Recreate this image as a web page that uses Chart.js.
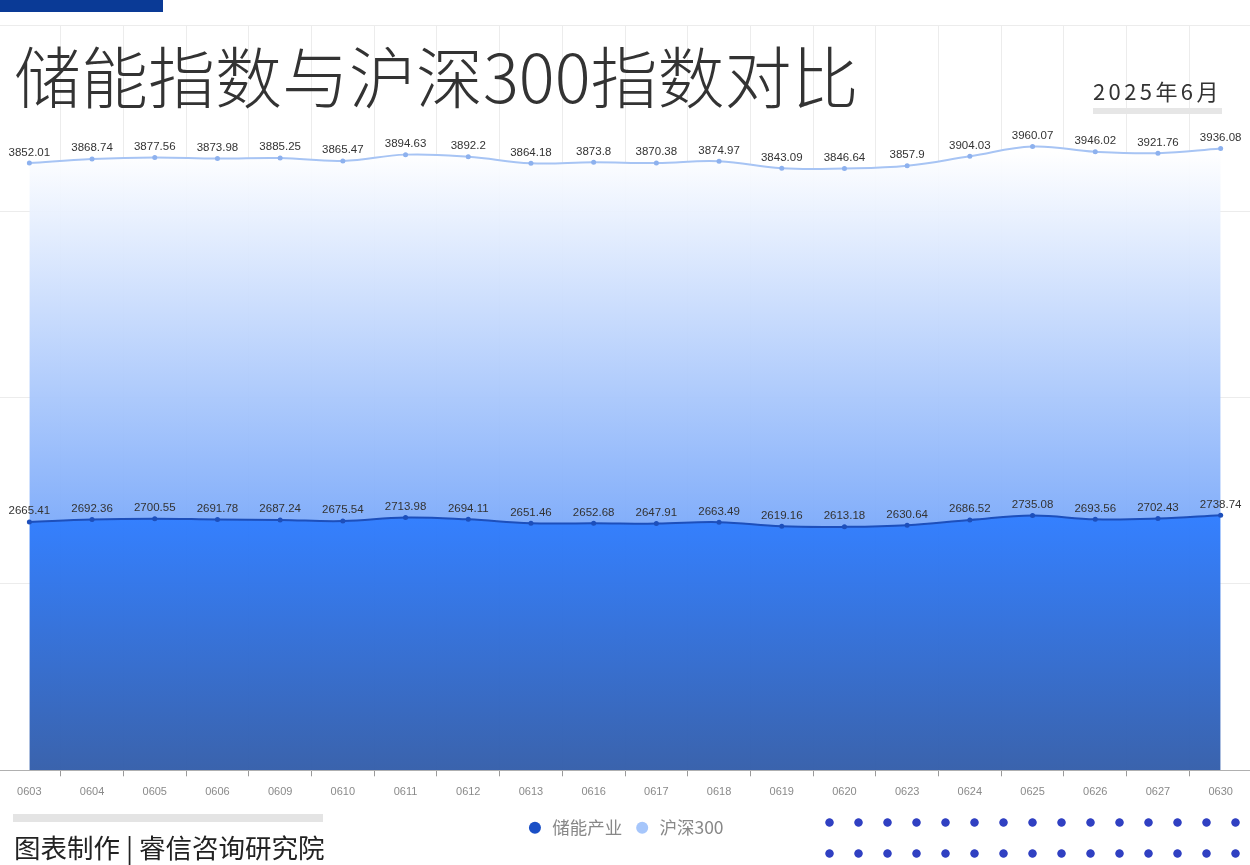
<!DOCTYPE html>
<html>
<head>
<meta charset="utf-8">
<script src="https://cdn.jsdelivr.net/npm/chart.js@4.4.1/dist/chart.umd.min.js"></script>
<style>
  html,body{margin:0;padding:0;background:#fff;}
  body{width:1250px;height:865px;position:relative;overflow:hidden;font-family:"Noto Sans CJK SC","Noto Sans",sans-serif;}
  #wrap{position:absolute;left:-6px;top:0;width:1262px;height:865px;}
  #topbar{position:absolute;left:0;top:0;width:163px;height:12px;background:#0a3a96;}
  #title{position:absolute;left:14px;top:32px;font-size:67px;line-height:84px;color:#333;font-weight:300;white-space:nowrap;}
  #month{position:absolute;left:1093px;top:75px;font-size:22px;line-height:30px;color:#333;letter-spacing:3.4px;white-space:nowrap;}
  #monthbar{position:absolute;left:1093px;top:108px;width:129px;height:6px;background:#e6e6e6;}
  #footbar{position:absolute;left:13px;top:814px;width:310px;height:8px;background:#e4e4e4;}
  #footer{position:absolute;left:14px;top:829px;font-size:26.5px;line-height:36px;color:#222;white-space:nowrap;}
  #dots{position:absolute;left:814.5px;top:806.5px;width:435px;height:62px;
    background-image:radial-gradient(circle, #3040c2 3.8px, transparent 4.6px);
    background-size:29px 31px;background-position:0 0;}
</style>
</head>
<body>
<div id="wrap"><canvas id="c" width="1262" height="865"></canvas></div>
<div id="topbar"></div>
<div id="title">储能指数与沪深300指数对比</div>
<div id="month">2025年6月</div>
<div id="monthbar"></div>
<div id="footbar"></div>
<div id="footer">图表制作 | 睿信咨询研究院</div>
<div id="dots"></div>
<script>
const categories = ["0603","0604","0605","0606","0609","0610","0611","0612","0613","0616","0617","0618","0619","0620","0623","0624","0625","0626","0627","0630"];
const storageIndex = [2665.41,2692.36,2700.55,2691.78,2687.24,2675.54,2713.98,2694.11,2651.46,2652.68,2647.91,2663.49,2619.16,2613.18,2630.64,2686.52,2735.08,2693.56,2702.43,2738.74];
const hs300Index = [3852.01,3868.74,3877.56,3873.98,3885.25,3865.47,3894.63,3892.2,3864.18,3873.8,3870.38,3874.97,3843.09,3846.64,3857.9,3904.03,3960.07,3946.02,3921.76,3936.08];
const seriesNames = ["储能产业","沪深300"];
const yMin = 0, yMax = 8000, yStep = 2000;

function storageFill(ctx){
  const chart = ctx.chart, area = chart.chartArea;
  if(!area) return 'rgba(47,123,255,0.95)';
  const h = area.bottom - area.top;
  const g = chart.ctx.createLinearGradient(0, area.top + h*0.66, 0, area.bottom);
  g.addColorStop(0, 'rgba(46,124,255,0.97)');
  g.addColorStop(1, 'rgba(52,94,170,0.97)');
  return g;
}
function hsFill(ctx){
  const chart = ctx.chart, area = chart.chartArea;
  if(!area) return 'rgba(160,195,255,0.8)';
  const h = area.bottom - area.top;
  const g = chart.ctx.createLinearGradient(0, area.top + h*0.17, 0, area.top + h*0.67);
  g.addColorStop(0, 'rgba(255,255,255,0.95)');
  g.addColorStop(1, 'rgba(124,170,250,0.95)');
  return g;
}

const valueLabels = {
  id:'valueLabels',
  afterDatasetsDraw(chart){
    const c = chart.ctx;
    c.save();
    c.font = '11.5px "Liberation Sans", Arial, sans-serif';
    c.textAlign = 'center';
    c.textBaseline = 'bottom';
    chart.data.datasets.forEach((ds,i)=>{
      const meta = chart.getDatasetMeta(i);
      meta.data.forEach((pt,j)=>{
        c.fillStyle = '#333';
        c.fillText(String(ds.data[j]), pt.x, pt.y - 5);
      });
    });
    c.restore();
  }
};

new Chart(document.getElementById('c'), {
  type:'line',
  data:{
    labels: categories,
    datasets:[
      {label:seriesNames[0], data:storageIndex, fill:'origin', backgroundColor:storageFill,
       borderColor:'#1d4fbb', borderWidth:2, pointRadius:2.5, pointBackgroundColor:'#1d4fbb',
       pointBorderColor:'#1d4fbb', pointBorderWidth:0, tension:0.4},
      {label:seriesNames[1], data:hs300Index, fill:'-1', backgroundColor:hsFill,
       borderColor:'#a7c4f4', borderWidth:2, pointRadius:2.5, pointBackgroundColor:'#8db1ee',
       pointBorderColor:'#8db1ee', pointBorderWidth:0, tension:0.4}
    ]
  },
  options:{
    responsive:false,
    animation:false,
    layout:{padding:{top:25,left:0,right:0,bottom:18.5}},
    scales:{
      x:{
        offset:true,
        grid:{color:'#ececec', offset:true, tickLength:6, tickColor:'#9a9a9a'},
        border:{color:'#b0b0b0'},
        ticks:{color:'#8a8a8a', font:{size:11, family:'"Liberation Sans", Arial, sans-serif'}, padding:9, maxRotation:0, autoSkip:false}
      },
      y:{
        stacked:true, min:yMin, max:yMax,
        ticks:{display:false, stepSize:yStep},
        grid:{color:'#ececec', drawTicks:false},
        border:{display:false}
      }
    },
    plugins:{
      tooltip:{enabled:false},
      legend:{
        position:'bottom',
        labels:{
          usePointStyle:true, pointStyle:'circle', boxWidth:17, boxHeight:8.5, padding:11.5,
          color:'#888', font:{size:17.5, family:'"Noto Sans CJK SC", sans-serif'},
          generateLabels(chart){
            const items = Chart.defaults.plugins.legend.labels.generateLabels(chart);
            const cols = ['#1a4fc6','#a6c6fb'];
            items.forEach((it,i)=>{ it.fillStyle = cols[i]; it.strokeStyle = cols[i]; it.lineWidth = 0; it.fontColor = '#888'; });
            return items;
          }
        }
      }
    }
  },
  plugins:[valueLabels]
});
</script>
</body>
</html>
